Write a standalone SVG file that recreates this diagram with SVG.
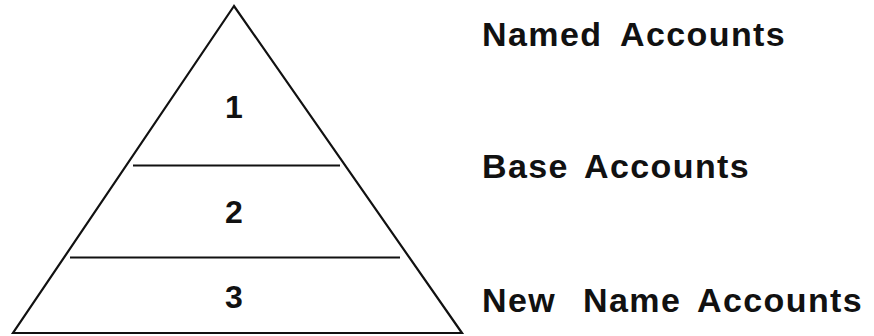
<svg xmlns="http://www.w3.org/2000/svg" width="874" height="336" viewBox="0 0 874 336">
<style>
.ln{stroke:#111;stroke-width:2.2;fill:none;stroke-linejoin:miter}
.num{font-family:"Liberation Sans",Arial,sans-serif;font-weight:bold;font-size:32px;fill:#111;text-anchor:middle}
.lbl{font-family:"Liberation Sans",Arial,sans-serif;font-weight:bold;font-size:34px;letter-spacing:1.4px;fill:#111}
</style>
<rect width="874" height="336" fill="#fff"/>
<g id="pyramid">
<polygon class="ln" points="234,6 13,333 462,333"/>
</g>
<g id="connectors">
<line class="ln" x1="133" y1="165.5" x2="340" y2="165.5"/>
<line class="ln" x1="70" y1="257.5" x2="400" y2="257.5"/>
</g>
<g id="tier1"><text class="num" x="234" y="118">1</text></g>
<g id="tier2"><text class="num" x="234" y="223">2</text></g>
<g id="tier3"><text class="num" x="234" y="308">3</text></g>
<g id="label1"><text class="lbl" y="46"><tspan x="482">Named</tspan><tspan x="620">Accounts</tspan></text></g>
<g id="label2"><text class="lbl" y="178"><tspan x="482">Base</tspan><tspan x="584">Accounts</tspan></text></g>
<g id="label3"><text class="lbl" y="312"><tspan x="482">New</tspan><tspan x="583">Name</tspan><tspan x="697">Accounts</tspan></text></g>
</svg>
